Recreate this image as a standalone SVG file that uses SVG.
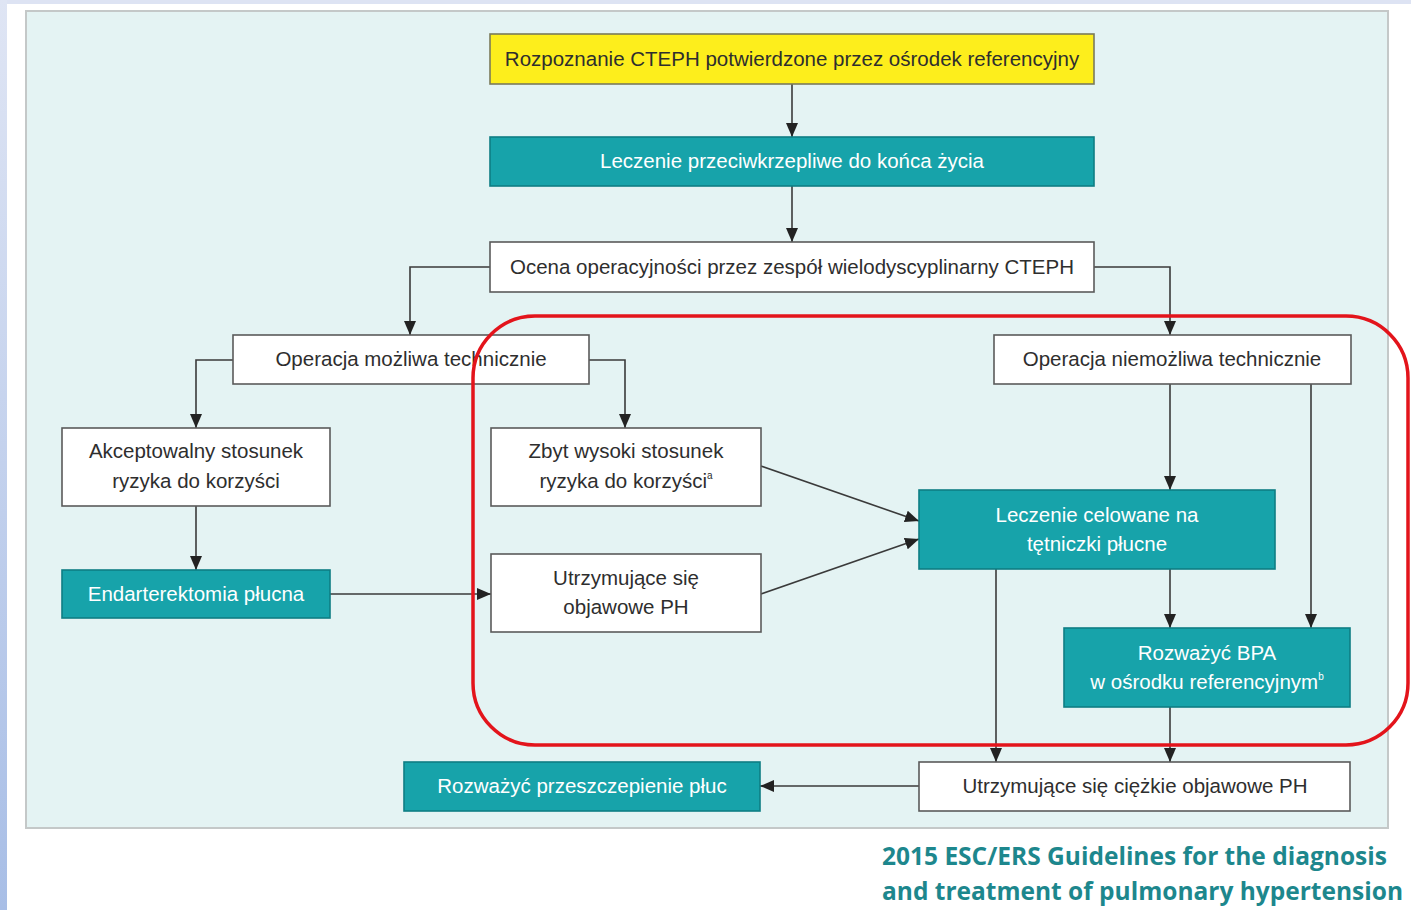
<svg xmlns="http://www.w3.org/2000/svg" width="1411" height="910" viewBox="0 0 1411 910">
<defs>
<linearGradient id="strip" x1="0" y1="0" x2="0" y2="1">
<stop offset="0" stop-color="#dfe5f4"/>
<stop offset="1" stop-color="#a8bee6"/>
</linearGradient>
<marker id="arr" markerUnits="userSpaceOnUse" markerWidth="14" markerHeight="12" refX="14" refY="6" orient="auto">
<path d="M0,0 L14,6 L0,12 z" fill="#222"/>
</marker>
</defs>
<style>
.w{fill:#ffffff;stroke:#5a5a5a;stroke-width:1.6}
.t{fill:#17a3aa;stroke:#0e7d84;stroke-width:1.6}
.y{fill:#fdee1c;stroke:#7a7a5a;stroke-width:1.6}
.lbl{font-family:"Liberation Sans",Arial,sans-serif;font-size:20.5px;text-anchor:middle;fill:#2e2e2e}
.lw{fill:#ffffff}
.c{fill:none;stroke:#3a3a3a;stroke-width:1.6}
.cap{font-family:"Open Sans",Lato,sans-serif;font-weight:bold;font-size:24.5px;fill:#1d878d}
</style>
<rect x="0" y="0" width="1411" height="910" fill="#ffffff"/>
<rect x="0" y="0" width="1411" height="4" fill="#dde3f3"/>
<rect x="0" y="0" width="7" height="910" fill="url(#strip)"/>
<rect x="26" y="11" width="1362" height="817" fill="#e4f3f3" stroke="#c4c8c8" stroke-width="2"/>

<g id="connectors">
<path class="c" d="M792,84 V137" marker-end="url(#arr)"/>
<path class="c" d="M792,186 V242" marker-end="url(#arr)"/>
<path class="c" d="M490,267 H410 V335" marker-end="url(#arr)"/>
<path class="c" d="M1094,267 H1170 V335" marker-end="url(#arr)"/>
<path class="c" d="M233,360 H196 V428" marker-end="url(#arr)"/>
<path class="c" d="M589,360 H625 V428" marker-end="url(#arr)"/>
<path class="c" d="M196,506 V570" marker-end="url(#arr)"/>
<path class="c" d="M330,594 H491" marker-end="url(#arr)"/>
<path class="c" d="M761,466 L919,521" marker-end="url(#arr)"/>
<path class="c" d="M761,594 L919,539" marker-end="url(#arr)"/>
<path class="c" d="M1170,384 V490" marker-end="url(#arr)"/>
<path class="c" d="M1311,384 V628" marker-end="url(#arr)"/>
<path class="c" d="M1170,569 V628" marker-end="url(#arr)"/>
<path class="c" d="M996,569 V762" marker-end="url(#arr)"/>
<path class="c" d="M1170,707 V762" marker-end="url(#arr)"/>
<path class="c" d="M919,786 H760" marker-end="url(#arr)"/>
</g>

<g id="n1"><rect class="y" x="490" y="34" width="604" height="50"/><text class="lbl" x="792" y="66">Rozpoznanie CTEPH potwierdzone przez ośrodek referencyjny</text></g>
<g id="n2"><rect class="t" x="490" y="137" width="604" height="49"/><text class="lbl lw" x="792" y="168">Leczenie przeciwkrzepliwe do końca życia</text></g>
<g id="n3"><rect class="w" x="490" y="242" width="604" height="50"/><text class="lbl" x="792" y="274">Ocena operacyjności przez zespół wielodyscyplinarny CTEPH</text></g>
<g id="n4"><rect class="w" x="233" y="335" width="356" height="49"/><text class="lbl" x="411" y="366">Operacja możliwa technicznie</text></g>
<g id="n5"><rect class="w" x="994" y="335" width="357" height="49"/><text class="lbl" x="1172" y="366">Operacja niemożliwa technicznie</text></g>
<g id="n6"><rect class="w" x="62" y="428" width="268" height="78"/><text class="lbl" x="196" y="458">Akceptowalny stosunek</text><text class="lbl" x="196" y="488">ryzyka do korzyści</text></g>
<g id="n7"><rect class="w" x="491" y="428" width="270" height="78"/><text class="lbl" x="626" y="458">Zbyt wysoki stosunek</text><text class="lbl" x="626" y="488">ryzyka do korzyści<tspan font-size="10" dy="-9">a</tspan></text></g>
<g id="n8"><rect class="t" x="62" y="570" width="268" height="48"/><text class="lbl lw" x="196" y="601">Endarterektomia płucna</text></g>
<g id="n9"><rect class="w" x="491" y="554" width="270" height="78"/><text class="lbl" x="626" y="585">Utrzymujące się</text><text class="lbl" x="626" y="614">objawowe PH</text></g>
<g id="n10"><rect class="t" x="919" y="490" width="356" height="79"/><text class="lbl lw" x="1097" y="522">Leczenie celowane na</text><text class="lbl lw" x="1097" y="551">tętniczki płucne</text></g>
<g id="n11"><rect class="t" x="1064" y="628" width="286" height="79"/><text class="lbl lw" x="1207" y="660">Rozważyć BPA</text><text class="lbl lw" x="1207" y="689">w ośrodku referencyjnym<tspan font-size="10" dy="-9">b</tspan></text></g>
<g id="n12"><rect class="t" x="404" y="762" width="356" height="49"/><text class="lbl lw" x="582" y="793">Rozważyć przeszczepienie płuc</text></g>
<g id="n13"><rect class="w" x="919" y="762" width="431" height="49"/><text class="lbl" x="1135" y="793">Utrzymujące się ciężkie objawowe PH</text></g>

<rect x="473" y="316" width="935" height="429" rx="62" ry="62" fill="none" stroke="#e3141b" stroke-width="3.5"/>

<text class="cap" x="882" y="865">2015 ESC/ERS Guidelines for the diagnosis</text>
<text class="cap" x="882" y="900">and treatment of pulmonary hypertension</text>
</svg>
